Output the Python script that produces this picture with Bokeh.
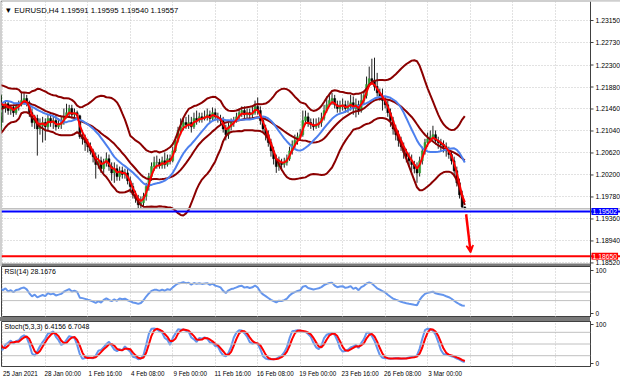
import numpy as np
import pandas as pd
from bokeh.plotting import figure
from bokeh.layouts import column
from bokeh.models import (Range1d, FixedTicker, Span, Label, Arrow, VeeHead, Div,
                          ColumnDataSource, BoxAnnotation, Plot)
from bokeh.core.properties import value
from bokeh.embed import file_html
from bokeh.resources import INLINE

# ---------------- texts ----------------
symbol_text = "\u25bc EURUSD,H4  1.19591 1.19595 1.19540 1.19557"
rsi_text = "RSI(14) 28.1676"
stoch_text = "Stoch(5,3,3) 6.4156 6.7048"

# ---------------- data (H4 bars) ----------------
# warm-up bars before the visible window (19-22 Jan)
warm_open = 1.2130
warm_close = [1.2124, 1.2128, 1.2131, 1.2120, 1.2116, 1.2112,
              1.2108, 1.2105, 1.2112, 1.2124, 1.2131, 1.2139,
              1.2124, 1.2112, 1.2143, 1.2166, 1.2170, 1.2162,
              1.2154, 1.2162, 1.2170, 1.2173, 1.2170, 1.2166]
warm_high = [1.2135, 1.2136, 1.2138, 1.2133, 1.2125, 1.2120,
             1.2116, 1.2113, 1.2118, 1.2130, 1.2138, 1.2145,
             1.2142, 1.2128, 1.2150, 1.2172, 1.2180, 1.2175,
             1.2168, 1.2168, 1.2176, 1.2180, 1.2178, 1.2174]
warm_low = [1.2118, 1.2120, 1.2124, 1.2115, 1.2110, 1.2105,
            1.2100, 1.2098, 1.2102, 1.2110, 1.2120, 1.2128,
            1.2118, 1.2105, 1.2108, 1.2140, 1.2160, 1.2155,
            1.2148, 1.2150, 1.2158, 1.2164, 1.2162, 1.2160]

# visible bars, 25 Jan 00:00 .. 5 Mar 08:00
close = [1.2162, 1.2154, 1.2147, 1.2156, 1.2143, 1.2149,
         1.2139, 1.2151, 1.2154, 1.2162, 1.2166, 1.2158,
         1.2139, 1.2120, 1.2128, 1.2108, 1.2114, 1.2120,
         1.2112, 1.2128, 1.2120, 1.2124, 1.2112, 1.2116,
         1.2120, 1.2131, 1.2139, 1.2147, 1.2135, 1.2139,
         1.2133, 1.2093, 1.2089, 1.2082, 1.2074, 1.2066,
         1.2055, 1.2040, 1.2047, 1.2032, 1.2044, 1.2051,
         1.2036, 1.2024, 1.2032, 1.2017, 1.2028, 1.2021,
         1.2024, 1.2009, 1.1998, 1.1982, 1.1975, 1.1963,
         1.1967, 1.1979, 1.1998, 1.2017, 1.2036, 1.2044,
         1.2044, 1.2038, 1.2047, 1.2040, 1.2051, 1.2047,
         1.2066, 1.2086, 1.2105, 1.2112, 1.2120, 1.2116,
         1.2120, 1.2112, 1.2128, 1.2124, 1.2131, 1.2128,
         1.2131, 1.2135, 1.2128, 1.2139, 1.2131, 1.2128,
         1.2124, 1.2108, 1.2097, 1.2112, 1.2120, 1.2124,
         1.2131, 1.2139, 1.2143, 1.2135, 1.2139, 1.2135,
         1.2139, 1.2151, 1.2143, 1.2124, 1.2108, 1.2097,
         1.2082, 1.2066, 1.2051, 1.2036, 1.2044, 1.2040,
         1.2044, 1.2051, 1.2066, 1.2078, 1.2086, 1.2093,
         1.2097, 1.2124, 1.2131, 1.2120, 1.2116, 1.2112,
         1.2116, 1.2120, 1.2128, 1.2143, 1.2154, 1.2162,
         1.2166, 1.2154, 1.2147, 1.2151, 1.2154, 1.2147,
         1.2151, 1.2158, 1.2147, 1.2154, 1.2143, 1.2162,
         1.2172, 1.2193, 1.2204, 1.2200, 1.2189, 1.2177,
         1.2170, 1.2162, 1.2154, 1.2139, 1.2124, 1.2108,
         1.2097, 1.2086, 1.2074, 1.2063, 1.2055, 1.2047,
         1.2040, 1.2032, 1.2024, 1.2047, 1.2066, 1.2082,
         1.2089, 1.2093, 1.2097, 1.2086, 1.2082, 1.2078,
         1.2074, 1.2066, 1.2059, 1.2047, 1.2028, 1.2005,
         1.1982, 1.1959, 1.19557]
high = [1.2170, 1.2166, 1.2158, 1.2162, 1.2160, 1.2154,
        1.2154, 1.2154, 1.2162, 1.2177, 1.2177, 1.2173,
        1.2162, 1.2147, 1.2135, 1.2135, 1.2128, 1.2131,
        1.2128, 1.2135, 1.2135, 1.2131, 1.2135, 1.2128,
        1.2131, 1.2147, 1.2156, 1.2154, 1.2154, 1.2147,
        1.2143, 1.2135, 1.2105, 1.2097, 1.2089, 1.2082,
        1.2070, 1.2063, 1.2059, 1.2055, 1.2051, 1.2063,
        1.2059, 1.2044, 1.2044, 1.2040, 1.2036, 1.2036,
        1.2032, 1.2032, 1.2017, 1.2005, 1.1990, 1.1982,
        1.1979, 1.1986, 1.2005, 1.2024, 1.2044, 1.2055,
        1.2057, 1.2051, 1.2055, 1.2063, 1.2059, 1.2059,
        1.2074, 1.2093, 1.2112, 1.2128, 1.2128, 1.2131,
        1.2135, 1.2131, 1.2139, 1.2143, 1.2139, 1.2139,
        1.2143, 1.2147, 1.2143, 1.2149, 1.2147, 1.2139,
        1.2135, 1.2131, 1.2116, 1.2120, 1.2128, 1.2131,
        1.2139, 1.2147, 1.2151, 1.2151, 1.2147, 1.2147,
        1.2151, 1.2162, 1.2168, 1.2151, 1.2131, 1.2116,
        1.2105, 1.2089, 1.2074, 1.2059, 1.2055, 1.2051,
        1.2053, 1.2059, 1.2074, 1.2086, 1.2097, 1.2101,
        1.2108, 1.2143, 1.2143, 1.2139, 1.2128, 1.2128,
        1.2128, 1.2130, 1.2139, 1.2154, 1.2170, 1.2177,
        1.2177, 1.2173, 1.2162, 1.2162, 1.2166, 1.2162,
        1.2162, 1.2173, 1.2170, 1.2166, 1.2162, 1.2175,
        1.2181, 1.2208, 1.2227, 1.2242, 1.2244, 1.2215,
        1.2185, 1.2185, 1.2170, 1.2162, 1.2147, 1.2131,
        1.2116, 1.2105, 1.2093, 1.2082, 1.2070, 1.2063,
        1.2059, 1.2047, 1.2044, 1.2055, 1.2074, 1.2089,
        1.2101, 1.2105, 1.2114, 1.2105, 1.2093, 1.2089,
        1.2086, 1.2082, 1.2074, 1.2066, 1.2055, 1.2036,
        1.2013, 1.1990, 1.19595]
low = [1.2154, 1.2147, 1.2120, 1.2139, 1.2135, 1.2135,
       1.2131, 1.2135, 1.2143, 1.2151, 1.2154, 1.2151,
       1.2131, 1.2112, 1.2108, 1.2057, 1.2097, 1.2082,
       1.2086, 1.2105, 1.2112, 1.2108, 1.2105, 1.2108,
       1.2108, 1.2116, 1.2128, 1.2131, 1.2128, 1.2128,
       1.2128, 1.2089, 1.2078, 1.2066, 1.2063, 1.2059,
       1.2044, 1.2013, 1.2032, 1.2024, 1.2024, 1.2036,
       1.2028, 1.2009, 1.2005, 1.2009, 1.2009, 1.2013,
       1.2013, 1.2002, 1.1986, 1.1975, 1.1967, 1.1956,
       1.1956, 1.1960, 1.1971, 1.1990, 1.2009, 1.2028,
       1.2032, 1.2032, 1.2032, 1.2032, 1.2036, 1.2040,
       1.2044, 1.2063, 1.2082, 1.2097, 1.2105, 1.2108,
       1.2108, 1.2101, 1.2108, 1.2116, 1.2120, 1.2120,
       1.2124, 1.2124, 1.2120, 1.2124, 1.2124, 1.2120,
       1.2116, 1.2101, 1.2086, 1.2089, 1.2105, 1.2112,
       1.2120, 1.2124, 1.2131, 1.2128, 1.2128, 1.2128,
       1.2128, 1.2135, 1.2135, 1.2116, 1.2101, 1.2086,
       1.2074, 1.2055, 1.2040, 1.2024, 1.2028, 1.2028,
       1.2034, 1.2038, 1.2047, 1.2059, 1.2070, 1.2078,
       1.2086, 1.2093, 1.2116, 1.2112, 1.2108, 1.2105,
       1.2108, 1.2110, 1.2112, 1.2124, 1.2139, 1.2151,
       1.2154, 1.2147, 1.2139, 1.2139, 1.2143, 1.2139,
       1.2139, 1.2143, 1.2135, 1.2130, 1.2135, 1.2139,
       1.2154, 1.2166, 1.2189, 1.2193, 1.2181, 1.2170,
       1.2162, 1.2143, 1.2147, 1.2131, 1.2112, 1.2097,
       1.2086, 1.2074, 1.2066, 1.2051, 1.2044, 1.2036,
       1.2028, 1.2023, 1.2005, 1.2017, 1.2040, 1.2059,
       1.2074, 1.2082, 1.2086, 1.2078, 1.2070, 1.2066,
       1.2063, 1.2055, 1.2051, 1.2040, 1.2017, 1.1998,
       1.1975, 1.1956, 1.19540]

price_ticks = [1.18520, 1.18940, 1.19360, 1.19780, 1.20200, 1.20620,
               1.21040, 1.21460, 1.21880, 1.22300, 1.22730, 1.23150]
time_bars = [2, 18, 34, 50, 66, 82, 98, 114, 130, 146, 162]
time_labels = ["25 Jan 2021", "28 Jan 00:00", "1 Feb 16:00", "4 Feb 08:00",
               "9 Feb 00:00", "11 Feb 16:00", "16 Feb 08:00", "19 Feb 00:00",
               "23 Feb 16:00", "26 Feb 08:00", "3 Mar 00:00"]
future_grid_bars = [178, 194, 210]   # grid continues into the empty shift area
blue_level = 1.19502
red_level = 1.18650
arrow_bars = [176.5, 178.2]
arrow_prices = [1.1945, 1.1872]
rsi_levels = [30, 50, 70]
stoch_levels = [20, 50, 80]

# ---------------- series ----------------
C = np.array(warm_close + close)
Hh = np.array(warm_high + high)
Ll = np.array(warm_low + low)
O = np.concatenate([[warm_open], C[:-1]])
Hh = np.maximum(Hh, np.maximum(O, C))
Ll = np.minimum(Ll, np.minimum(O, C))
idx = np.arange(len(C)) - len(warm_close)

s = pd.Series(C)
ema_fast = s.ewm(span=3, adjust=False).mean().values
sma_slow = s.rolling(14).mean().values
bb_mid = s.rolling(20).mean()
bb_sd = s.rolling(20).std(ddof=0)
bb_up = (bb_mid + 2 * bb_sd).values
bb_lo = (bb_mid - 2 * bb_sd).values
bb_mid = bb_mid.values

d = s.diff()
gain = d.clip(lower=0).ewm(alpha=1 / 14, adjust=False).mean()
loss = (-d.clip(upper=0)).ewm(alpha=1 / 14, adjust=False).mean()
rsi = (100 - 100 / (1 + gain / loss)).values

hh5 = pd.Series(Hh).rolling(5).max()
ll5 = pd.Series(Ll).rolling(5).min()
stoch_k = 100 * (s - ll5).rolling(3).sum() / (hh5 - ll5).rolling(3).sum()
stoch_d = stoch_k.rolling(3).mean().values
stoch_k = stoch_k.values

vis = idx >= -3

# ---------------- layout constants ----------------
FONT = "Liberation Sans"
W = 620
AXW = 30
FRAME_W = W - 1 - AXW            # 589 px of chart area
H_MAIN, H_RSI, H_SEP2, H_STO = 266, 51, 4, 61
GRID_C = "#c4c4c4"
AX_C = "#404040"
SEP_C = "#7a7a7a"

X0, X1 = 1.507, 223.35            # bars visible in the chart area
xr = Range1d(X0, X1)
# main pane draws its own price scale inside an extended frame
X1_MAIN = X1 + AXW * (X1 - X0) / FRAME_W
xr_main = Range1d(X0, X1_MAIN)
MAIN_TOP, MAIN_BOTTOM = 1.23513, 1.18452
SEP1_TOP = 1.18509                # pane separator drawn at the foot of the price pane

NO_ALIGN = {"frame_align": False} if "frame_align" in Plot.properties() else {}


def style_grid(p):
    p.background_fill_color = "white"
    p.xgrid.ticker = FixedTicker(ticks=time_bars + future_grid_bars)
    p.xgrid.grid_line_color = GRID_C
    p.xgrid.grid_line_dash = "1 2"


def make_sub(height, yr, bottom_axis=False):
    p = figure(width=W, height=height, x_range=xr, y_range=yr, title=None,
               output_backend="svg", toolbar_location=None,
               y_axis_location="right",
               x_axis_location="below" if bottom_axis else None,
               min_border_left=1, min_border_right=AXW,
               min_border_top=0, min_border_bottom=16 if bottom_axis else 0,
               **NO_ALIGN)
    style_grid(p)
    p.outline_line_color = AX_C
    p.outline_line_width = 1
    p.border_fill_color = "white"
    p.ygrid.visible = False
    ax = p.yaxis[0]
    ax.ticker = FixedTicker(ticks=[0, 100])
    ax.minor_tick_line_color = None
    ax.major_tick_in = 0
    ax.major_tick_out = 3
    ax.major_tick_line_color = AX_C
    ax.axis_line_color = AX_C
    ax.major_label_text_font = FONT
    ax.major_label_text_font_size = "6.5px"
    ax.major_label_text_color = "#000000"
    ax.major_label_standoff = 2
    return p


# ---------------- main price pane ----------------
main = figure(width=W, height=H_MAIN, x_range=xr_main,
              y_range=Range1d(MAIN_BOTTOM, MAIN_TOP),
              title=None, output_backend="svg", toolbar_location=None,
              x_axis_location=None, y_axis_location=None,
              min_border_left=1, min_border_right=0, min_border_top=1, min_border_bottom=0,
              **NO_ALIGN)
style_grid(main)
main.outline_line_color = None
main.border_fill_color = AX_C          # 1px dark edge on top and left
main.ygrid.ticker = FixedTicker(ticks=price_ticks)
main.ygrid.grid_line_color = GRID_C
main.ygrid.grid_line_dash = "1 2"
# price-scale strip (blank area right of the chart)
main.add_layout(BoxAnnotation(left=X1, fill_color="white", fill_alpha=1.0,
                              line_alpha=0, level="underlay"))

BULL = "#2f9a2f"
BEAR = "#000000"
src = ColumnDataSource(dict(x=idx, top=np.maximum(O, C), bottom=np.minimum(O, C),
                            high=Hh, low=Ll,
                            color=np.where(C >= O, BULL, BEAR)))
main.segment(x0="x", y0="high", x1="x", y1="low", source=src,
             line_color="#202020", line_width=1)
main.vbar(x="x", width=0.72, top="top", bottom="bottom", source=src,
          fill_color="color", line_color="color", line_width=0.5)

BB_C = "#8b0000"
for band in (bb_up, bb_mid, bb_lo):
    main.line(idx[vis], band[vis], line_color=BB_C, line_width=2)
main.line(idx[vis], sma_slow[vis], line_color="#4d80ee", line_width=2)
main.line(idx[vis], ema_fast[vis], line_color="#ff0000", line_width=2)

main.add_layout(Span(location=C[-1], dimension="width", line_color="#c0c0c0", line_width=1.5))
main.add_layout(Span(location=blue_level, dimension="width", line_color="#0000ff", line_width=2))
main.add_layout(Span(location=red_level, dimension="width", line_color="#ff0000", line_width=2))

main.add_layout(Arrow(x_start=arrow_bars[0], y_start=arrow_prices[0],
                      x_end=arrow_bars[1], y_end=arrow_prices[1],
                      line_color="#ff0000", line_width=2.5,
                      end=VeeHead(size=7, line_color="#ff0000", fill_color="#ff0000",
                                  line_width=1.5)))

# separator between price pane and RSI pane (chart area only)
main.add_layout(BoxAnnotation(right=X1, top=SEP1_TOP, fill_color=SEP_C, fill_alpha=1.0,
                              line_alpha=0))

# price scale: axis line, ticks and labels
main.add_layout(Span(location=X1, dimension="height", line_color=AX_C, line_width=1))
main.ray(x=[X1] * len(price_ticks), y=price_ticks, length=3, length_units="screen",
         angle=0, line_color=AX_C, line_width=1)
main.text(x=[X1] * len(price_ticks), y=price_ticks,
          text=[f"{t:.5f}" for t in price_ticks], x_offset=5,
          text_font=value(FONT), text_font_size="6.8px", text_color="#000000",
          text_baseline="middle", text_align="left")
for lvl, txt, bg in ((blue_level, f"{blue_level:.5f}", "#0000ff"),
                     (red_level, f"{red_level:.5f}", "#ff0000")):
    main.add_layout(Label(x=X1, y=lvl, x_offset=1, text=txt, text_color="white",
                          text_font=FONT, text_font_size="6.8px",
                          text_baseline="middle", text_align="left",
                          background_fill_color=bg, padding=1))

main.add_layout(Label(x=3, y=1.23341, x_units="screen", y_units="data", text=symbol_text,
                      text_font=FONT, text_font_size="7.7px", text_color="#000000",
                      text_baseline="middle"))

# ---------------- RSI pane ----------------
rsi_p = make_sub(H_RSI, Range1d(-9.3, 109.3))
for lv in rsi_levels:
    rsi_p.add_layout(Span(location=lv, dimension="width", line_color="#c0c0c0", line_width=1))
rsi_p.line(idx[vis], rsi[vis], line_color="#6495ed", line_width=2)
rsi_p.add_layout(Label(x=3, y=97.7, x_units="screen", y_units="data", text=rsi_text,
                       text_font=FONT, text_font_size="7px", text_color="#000000",
                       text_baseline="middle"))

# ---------------- Stochastic pane ----------------
sto = make_sub(H_STO, Range1d(-7.7, 107.7), bottom_axis=True)
for lv in stoch_levels:
    sto.add_layout(Span(location=lv, dimension="width", line_color="#c0c0c0", line_width=1))
sto.line(idx[vis], stoch_k[vis], line_color="#6495ed", line_width=2)
sto.line(idx[vis], stoch_d[vis], line_color="#ff0000", line_width=2)
sto.add_layout(Label(x=3, y=94.9, x_units="screen", y_units="data", text=stoch_text,
                     text_font=FONT, text_font_size="7px", text_color="#000000",
                     text_baseline="middle"))

LABEL_SHIFT = 6.6  # time labels start at their bar, MT4 style
label_pos = [b + LABEL_SHIFT for b in time_bars]
xa = sto.xaxis[0]
xa.ticker = FixedTicker(ticks=label_pos)
xa.major_label_overrides = {pos: lab for pos, lab in zip(label_pos, time_labels)}
xa.axis_line_color = None
xa.major_tick_line_color = None
xa.minor_tick_line_color = None
xa.major_tick_out = 0
xa.major_tick_in = 0
xa.major_label_standoff = 3
xa.major_label_text_font = FONT
xa.major_label_text_font_size = "6.3px"
xa.major_label_text_color = "#000000"

sep2 = Div(text="", width=FRAME_W + 1, height=H_SEP2, margin=(0, 0, 0, 0),
           styles={"background-color": SEP_C})

layout = column(main, rsi_p, sep2, sto, spacing=0)

open("out.html", "w").write(file_html(layout, INLINE))
